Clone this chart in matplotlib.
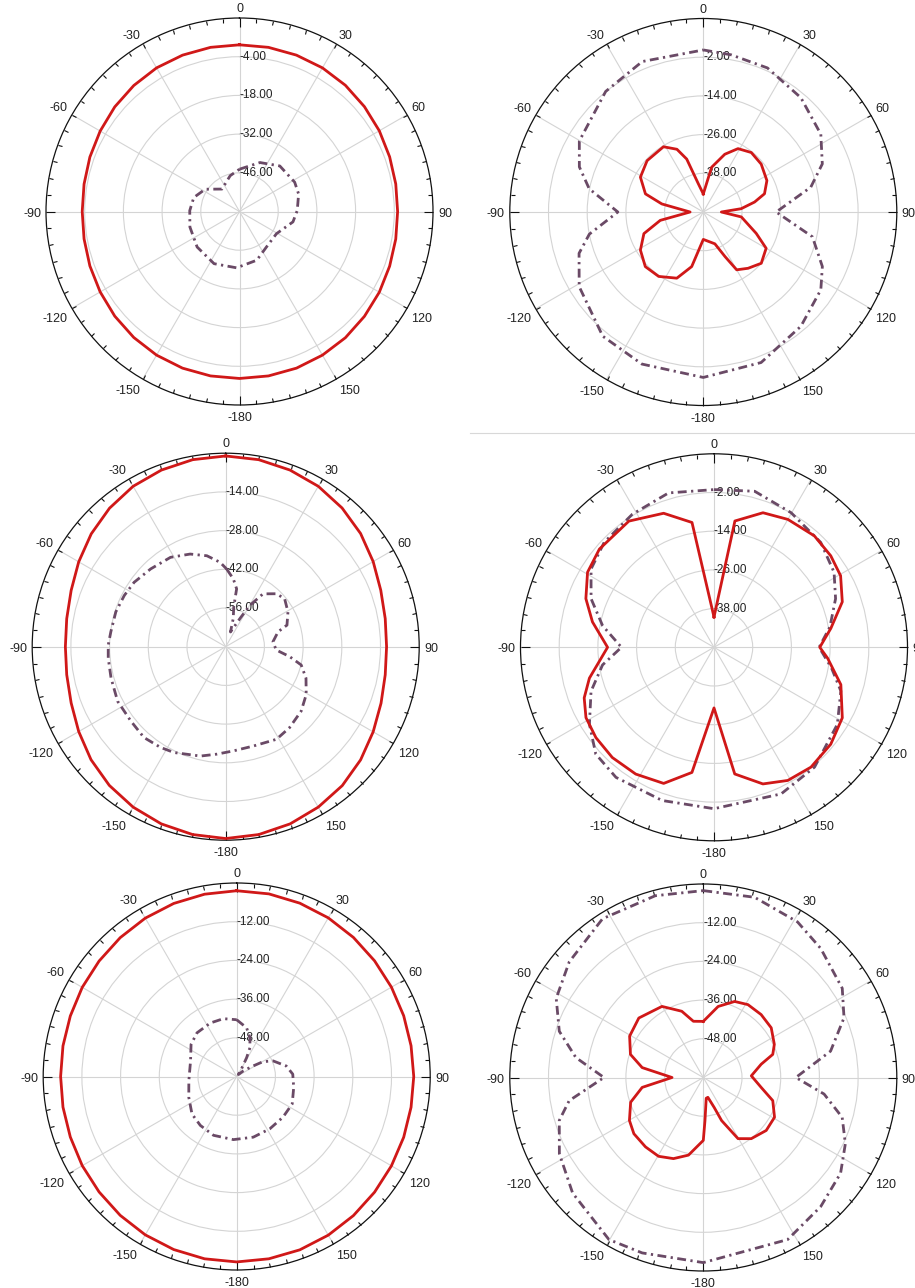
import numpy as np
import matplotlib
matplotlib.use("Agg")
import matplotlib.pyplot as plt

plt.rcParams['font.family'] = ['Liberation Sans', 'DejaVu Sans']

# # # # DATA # # # #

# angle labels, clockwise from the top
theta_ticks = np.arange(0, 360, 30)
theta_labels = ['0', '30', '60', '90', '120', '150', '-180', '-150', '-120', '-90', '-60', '-30']

# radial range (center, outer) and labelled rings of each panel
r_lims = [(-60, 10), (-50, 10), (-70, 0), (-50, 10), (-60, 0), (-60, 0)]
ring_vals = [[-46, -32, -18, -4], [-38, -26, -14, -2], [-56, -42, -28, -14],
             [-38, -26, -14, -2], [-48, -36, -24, -12], [-48, -36, -24, -12]]

# angles for the smooth (10 degree) traces
ang10 = np.arange(0, 361, 10)

# panel 1 (top left)
p1_red_db = [0.3, 0.3, 0.2, 0.0, -0.4, -1.0, -1.6, -2.2, -2.6, -2.8, -2.6, -2.2, -1.6,
             -1.0, -0.4, 0.0, 0.3, 0.4, 0.4, 0.4, 0.3, 0.0, -0.5, -1.1, -1.8, -2.4,
             -2.9, -3.1, -2.9, -2.4, -1.8, -1.1, -0.5, 0.0, 0.2, 0.3, 0.3]
p1_pur_ang = [0, 22.7, 41.5, 62, 73.5, 89, 101, 121, 142.5, 160.5, 183, 206, 230,
              252.6, 271, 287, 303, 322, 345.5, 360]
p1_pur_db = [-44.7, -40.8, -38, -37.4, -37.7, -39.1, -40.3, -44.4, -43.9, -41.3, -39.6,
             -39, -40, -41.2, -42, -42.7, -45.2, -49.7, -46.6, -44.7]

# panel 2 (top right)
p2_red_ang = [0, 10.5, 20.4, 28.7, 38.9, 50.4, 63.7, 73.4, 79, 85, 90, 97.4, 112,
              120, 131.5, 141.5, 150, 154, 160, 180, 192, 201.8, 214.7, 226.7,
              238.8, 250, 259, 270, 281, 287.4, 299, 312.4, 328.6, 337.2, 342.6, 350, 360]
p2_red_db = [-44.4, -35.9, -30.9, -27.6, -26.3, -26.7, -28, -30.2, -33.8, -38.2, -44.4,
             -38.1, -32.3, -27.5, -26, -27.7, -29.3, -34.6, -39.5, -41.5, -32.7, -27.9,
             -25.7, -25.3, -27.2, -30.4, -36.4, -45.9, -36.9, -31.2, -27.7, -26.4,
             -26.3, -28.9, -32.8, -41.1, -44.4]
p2_pur_ang = [0, 10, 24, 40.5, 56.5, 68, 77, 90, 102.8, 114.6, 123.5, 139.5, 159,
              180, 202, 219, 239, 251.6, 259, 270, 281.5, 290, 299.8, 321, 337.9, 360]
p2_pur_db = [0.25, -0.5, -1.1, -3.4, -6.3, -10.2, -15.8, -27.4, -15.3, -9.4, -6.3,
             -3.4, 0, 1.3, 0.85, -0.45, -5.1, -9.4, -14, -23.5, -13.9, -9.1, -5.7,
             -1.9, 0.35, 0.25]

# panel 3 (middle left)
p3_red_db = [-1, -1.3, -2, -3, -4.5, -6.3, -8.4, -10.3, -11.4, -11.8, -11.4, -10.2,
             -8.4, -6.3, -4.4, -3, -1.8, -1, -0.6, -1, -1.8, -3, -4.5, -6.4, -8.6,
             -10.5, -11.6, -12, -11.6, -10.5, -8.6, -6.5, -4.6, -3, -2, -1.3, -1]
p3_pur_ang = [0.7, 6.4, 10.7, 11, 11.5, 15, 18, 26.8, 30.3, 35.2, 43.7, 50.8, 60.8,
              70.6, 74.1, 84, 93.7, 98.8, 103.6, 111.4, 120.8, 130.5, 141.8, 151.3,
              164.5, 175.8, 184.7, 193, 206, 212.9, 222, 231.9, 243.2, 254.7, 264.4,
              270.8, 277.4, 287.6, 296.8, 305.1, 316, 328.3, 339, 348.3, 356.2, 360.7]
p3_pur_db = [-41.9, -45.3, -48.7, -52.3, -55.4, -59.5, -64.4, -58.6, -52.7, -46.6,
             -43.5, -42.5, -44.2, -46.5, -50.3, -52.8, -51.7, -46.6, -41.9, -38.8,
             -36.1, -34.1, -32.7, -31.8, -32.7, -32.2, -31, -29.4, -27.4, -26.6,
             -25.8, -26.4, -26.2, -27, -27.3, -27.5, -28.1, -28.3, -28.9, -29.5,
             -30.9, -32, -34.1, -36.4, -39.4, -41.9]

# panel 4 (middle right)
p4_red_ang = [0, 9.4, 20, 30, 42, 51.9, 60.5, 70.5, 80.8, 90, 95.5, 106.4, 118.8,
              129.7, 141, 151, 160.3, 170.7, 180, 190, 200.3, 211.7, 222.7, 232.6,
              241.2, 248.7, 256.1, 270, 281.8, 290.8, 300.7, 310.6, 326, 339.4, 350, 360]
p4_red_db = [-40.6, -10.3, -5.6, -4.2, -3.5, -4, -4.9, -7.8, -13.3, -17.2, -14.6, -9,
             -4.6, -2.95, -2.2, -2.8, -5, -10.2, -31.2, -10.6, -5, -3.8, -3.5, -3.9,
             -4.7, -6.8, -10.2, -17, -11.5, -7.5, -4.4, -3.2, -2.8, -5.6, -10.7, -40.6]
p4_pur_ang = [0, 14.6, 29.8, 45.5, 58, 68.2, 80, 90, 100, 109, 122, 140, 155.4, 180,
              198.7, 217, 227.9, 238.3, 250.3, 261, 270, 281, 291.6, 302.5, 313.7,
              328.4, 343.6, 360]
p4_pur_db = [-1.1, 0, -1.9, -3.6, -6.1, -9.4, -13.5, -17.4, -13, -8.4, -4.9, -1.5, 0,
             0.05, 0.15, 0.5, -0.6, -4.6, -9.5, -15, -21.3, -14.8, -9, -4.8, -2.9,
             -1.6, -0.1, -1.1]

# panel 5 (bottom left)
p5_red_db = [-2.4, -2.5, -2.8, -3.2, -3.7, -4.2, -4.6, -4.9, -5.1, -5.1, -5.1, -4.9,
             -4.6, -4.2, -3.7, -3.2, -2.8, -2.6, -2.5, -2.6, -2.9, -3.3, -3.8, -4.3,
             -4.7, -5.1, -5.3, -5.4, -5.3, -5.1, -4.7, -4.3, -3.8, -3.3, -2.9, -2.6, -2.4]
p5_pur_ang = [0, 11.5, 18.9, 24.7, 27.8, 33, 40, 49.6, 57.4, 60.6, 66.9, 78, 87.6,
              100.9, 116.3, 131.3, 147.7, 164.7, 183, 201.5, 216.6, 230, 246.5, 264.9,
              288.6, 305.1, 317.7, 333.7, 347.1, 360]
p5_pur_db = [-42.4, -44.6, -47.3, -50.2, -53.4, -57.5, -59.2, -57.3, -53.9, -50.6,
             -47.7, -44.3, -42.6, -42, -40.8, -40.9, -40.8, -40.5, -40.4, -40.4, -41.1,
             -41.9, -43.8, -45.1, -44.9, -42.7, -41.7, -41.5, -41.6, -42.4]

# panel 6 (bottom right)
p6_red_ang = [0, 11.8, 22.4, 31.5, 42.6, 53.8, 65, 71.6, 77.1, 88, 99.7, 108.4, 119.2,
              130.1, 141.9, 150.4, 157, 160, 167, 172, 177.8, 180, 190.8, 200.2, 209.6,
              219.8, 231, 239.8, 251.2, 260.8, 270, 279.2, 287.6, 299.3, 312.7, 329.8,
              342, 350, 360]
p6_red_db = [-42.6, -37.5, -34.5, -33.5, -33.5, -33.9, -35.7, -37.3, -41.6, -45.1,
             -41.8, -37.3, -34.7, -34.5, -35.9, -38.2, -45.5, -50.1, -53.7, -53.5,
             -46.6, -40.5, -35.5, -33.2, -31.9, -32, -32.3, -33.5, -36.2, -40.8, -50.3,
             -40.8, -36.3, -33.8, -32.8, -34.5, -38.4, -42.3, -42.6]
p6_pur_ang = [0, 15.9, 31.2, 42.3, 57.3, 67, 78.3, 90, 97.8, 106, 115, 124.9, 137.7,
              152.5, 180, 199.2, 210.2, 228.5, 242.1, 253.4, 260.2, 270, 278.9, 287.8,
              298.3, 310.8, 327.6, 345.2, 360]
p6_pur_db = [-2.05, -1.9, -3.6, -5.9, -8.8, -12.6, -19.7, -31.3, -22.2, -15.2, -11.4,
             -8.1, -5.9, -3.35, -2.6, -2.4, -1.85, -5.9, -9.5, -13.4, -17.8, -29.2,
             -20, -13.1, -8.2, -5.1, -1.7, -1.7, -2.05]

red_angs = [ang10, p2_red_ang, ang10, p4_red_ang, ang10, p6_red_ang]
red_dbs = [p1_red_db, p2_red_db, p3_red_db, p4_red_db, p5_red_db, p6_red_db]
pur_angs = [p1_pur_ang, p2_pur_ang, p3_pur_ang, p4_pur_ang, p5_pur_ang, p6_pur_ang]
pur_dbs = [p1_pur_db, p2_pur_db, p3_pur_db, p4_pur_db, p5_pur_db, p6_pur_db]

# panel centres and radii in pixels (image coords, y down)
W, H = 915, 1288
centers = [(239.5, 211.5), (703.3, 212.0), (225.7, 646.7),
           (714.0, 647.3), (236.7, 1076.5), (703.3, 1077.5)]
radius = 193.5

RED = '#d01818'
PURPLE = '#6a4a66'
TXT = '#222222'

# # # # PLOTTING # # # #
fig = plt.figure(figsize=(W / 100, H / 100), dpi=100)
fig.patch.set_facecolor('white')

gap = 3.6     # points between the outer circle and the angle labels
drop = -1.5   # small downward nudge, the digits sit low in their boxes

for i in range(6):
    cx, cy = centers[i]
    R = radius
    ax = fig.add_axes([(cx - R) / W, (H - cy - R) / H, 2 * R / W, 2 * R / H],
                      projection='polar')
    ax.set_theta_zero_location('N')
    ax.set_theta_direction(-1)
    rmin, rmax = r_lims[i]
    ax.set_ylim(rmin, rmax)

    # rings and spokes
    ax.set_yticks(ring_vals[i])
    ax.set_yticklabels([])
    ax.set_xticks(np.radians(theta_ticks))
    ax.set_xticks(np.radians(np.arange(0, 360, 5)), minor=True)
    ax.grid(True, color='#d4d4d4', lw=0.8)
    ax.spines['polar'].set_color('#111111')
    ax.spines['polar'].set_linewidth(0.9)

    # inward ticks on the outer circle (tick2 sits on the rim in polar axes)
    ax.tick_params(axis='x', which='both', bottom=False, top=True,
                   labelbottom=False, labeltop=False, direction='in',
                   width=0.8, color='#111111')
    ax.tick_params(axis='x', which='major', length=3.5)
    ax.tick_params(axis='x', which='minor', length=3)
    for k, t in enumerate(ax.xaxis.get_major_ticks()):
        if theta_ticks[k] % 90 == 0:
            t.tick2line.set_markersize(6.5)

    # angle labels just outside the rim
    for a, lbl in zip(theta_ticks, theta_labels):
        s, c = np.sin(np.radians(a)), np.cos(np.radians(a))
        ha = 'left' if s > 0.1 else ('right' if s < -0.1 else 'center')
        va = 'bottom' if c > 0.1 else ('top' if c < -0.1 else 'center')
        ax.annotate(lbl, xy=(np.radians(a), rmax), xytext=(gap * s, gap * c + drop),
                    textcoords='offset points', ha=ha, va=va, fontsize=9,
                    color=TXT, annotation_clip=False)

    # ring labels
    for v in ring_vals[i]:
        ax.text(0, v, f'{v:.2f}', ha='left', va='center', fontsize=8.5,
                color=TXT, zorder=2)

    ax.plot(np.radians(pur_angs[i]), pur_dbs[i], color=PURPLE, lw=2.0,
            ls=(0, (3.2, 1.6, 0.8, 1.6)), zorder=3)
    ax.plot(np.radians(red_angs[i]), red_dbs[i], color=RED, lw=2.0, zorder=4)

# thin separator seen between the right hand panels
fig.add_artist(plt.Line2D([470 / W, 1.0], [1 - 433 / H, 1 - 433 / H],
                          color='#d8d8d8', lw=0.8))

fig.savefig('out.png', dpi=100, facecolor='white')
